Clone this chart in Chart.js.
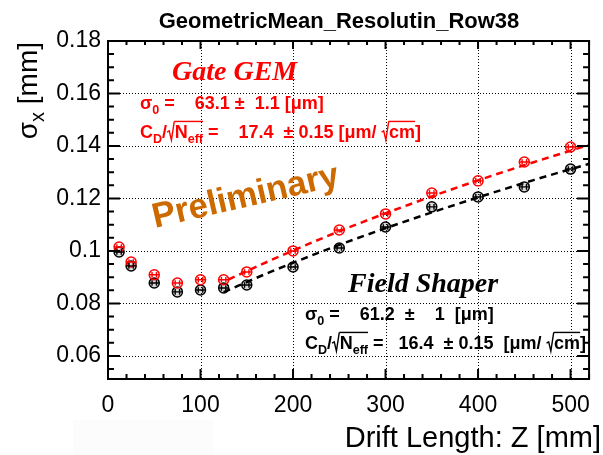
<!DOCTYPE html>
<html>
<head>
<meta charset="utf-8">
<script src="https://cdn.jsdelivr.net/npm/chart.js@4/dist/chart.umd.min.js"></script>
<style>
  body { margin: 0; background: #fff; }
  canvas { display: block; }
</style>
</head>
<body>
<canvas id="chart" width="603" height="455"></canvas>
<script>
// Dados
const zBins = [12, 25, 50, 75, 100, 125, 150, 200, 250, 300, 350, 400, 450, 500];
const gateGEM = [0.1015, 0.0958, 0.0909, 0.0878, 0.0890, 0.0890, 0.0920, 0.1000, 0.1080, 0.1141, 0.1221, 0.1267, 0.1339, 0.1396];
const fieldShaper = [0.0996, 0.0943, 0.0878, 0.0844, 0.0851, 0.0859, 0.0870, 0.0939, 0.1011, 0.1091, 0.1168, 0.1206, 0.1244, 0.1312];

// curvas de ajuste
const fitZGate = [130, 175, 250, 325, 400, 460, 520];
const fitGate = [0.0891, 0.0963, 0.1075, 0.1176, 0.1269, 0.1338, 0.1404];
const fitZField = [125, 175, 250, 325, 400, 460, 520];
const fitField = [0.0843, 0.0919, 0.1023, 0.1117, 0.1204, 0.1270, 0.1332];

const xMajor = [0, 100, 200, 300, 400, 500];
const yMajor = [0.06, 0.08, 0.10, 0.12, 0.14, 0.16, 0.18];

const RED = '#ff0000';
const SANS = '"Liberation Sans", Arial, sans-serif';
const SERIF = '"Liberation Serif", "Times New Roman", serif';

function pts(xs, ys) {
  return xs.map((x, i) => ({ x: x, y: ys[i] }));
}

// texto com subscrito e raiz
function drawParts(ctx, x, y, parts, size) {
  let cx = x;
  for (const p of parts) {
    if (p.sqrt) {
      ctx.save();
      ctx.lineWidth = 1.4;
      ctx.beginPath();
      ctx.moveTo(cx, y - size * 0.33);
      ctx.lineTo(cx + size * 0.12, y - size * 0.40);
      ctx.lineTo(cx + size * 0.24, y + size * 0.12);
      ctx.lineTo(cx + size * 0.40, y - size * 0.92);
      const startTop = cx + size * 0.40;
      ctx.stroke();
      const end = drawParts(ctx, cx + size * 0.42, y, p.sqrt, size);
      ctx.beginPath();
      ctx.moveTo(startTop, y - size * 0.92);
      ctx.lineTo(end, y - size * 0.92);
      ctx.stroke();
      ctx.restore();
      cx = end;
      continue;
    }
    const sub = p[1] === 'sub';
    const fs = sub ? size * 0.7 : size;
    ctx.font = 'bold ' + fs + 'px ' + SANS;
    ctx.fillText(p[0], cx, sub ? y + size * 0.3 : y);
    cx += ctx.measureText(p[0]).width;
  }
  return cx;
}

const rootFrame = {
  id: 'rootFrame',
  beforeDatasetsDraw(chart) {
    const { ctx, chartArea: a, scales: { x, y } } = chart;
    ctx.save();
    ctx.strokeStyle = '#000';
    ctx.lineWidth = 1;
    ctx.setLineDash([1, 2]);
    xMajor.forEach(v => {
      const px = Math.round(x.getPixelForValue(v)) + 0.5;
      ctx.beginPath(); ctx.moveTo(px, a.top); ctx.lineTo(px, a.bottom); ctx.stroke();
    });
    yMajor.forEach(v => {
      const py = Math.round(y.getPixelForValue(v)) + 0.5;
      ctx.beginPath(); ctx.moveTo(a.left, py); ctx.lineTo(a.right, py); ctx.stroke();
    });
    ctx.restore();
  },
  afterDatasetsDraw(chart) {
    const { ctx, chartArea: a, scales: { x, y } } = chart;
    ctx.save();
    // barras de erro dentro dos marcadores
    chart.data.datasets.forEach((ds, i) => {
      if (!ds.markers) return;
      const meta = chart.getDatasetMeta(i);
      ctx.strokeStyle = ds.borderColor;
      ctx.lineWidth = 1.4;
      meta.data.forEach(el => {
        ctx.beginPath();
        ctx.moveTo(el.x - 5, el.y); ctx.lineTo(el.x + 5, el.y);
        ctx.moveTo(el.x - 2.2, el.y - 2.8); ctx.lineTo(el.x - 2.2, el.y + 2.8);
        ctx.moveTo(el.x + 2.2, el.y - 2.8); ctx.lineTo(el.x + 2.2, el.y + 2.8);
        ctx.stroke();
      });
    });
    // moldura e marcas
    ctx.strokeStyle = '#000';
    ctx.lineWidth = 2;
    ctx.strokeRect(a.left, a.top, a.right - a.left, a.bottom - a.top);
    ctx.beginPath();
    for (let v = 0; v <= 520; v += 20) {
      const px = x.getPixelForValue(v);
      const len = v % 100 === 0 ? 10 : 5;
      ctx.moveTo(px, a.bottom); ctx.lineTo(px, a.bottom - len);
      ctx.moveTo(px, a.top); ctx.lineTo(px, a.top + len * 0.8);
    }
    for (let k = 11; k <= 36; k++) {
      const v = k * 0.005;
      const py = y.getPixelForValue(v);
      if (py > a.bottom + 0.5) continue;
      const len = k % 4 === 0 ? 12 : 6;
      ctx.moveTo(a.left, py); ctx.lineTo(a.left + len, py);
      ctx.moveTo(a.right, py); ctx.lineTo(a.right - len, py);
    }
    ctx.stroke();
    ctx.restore();
  },
  afterDraw(chart) {
    const ctx = chart.ctx;
    ctx.save();
    ctx.textBaseline = 'alphabetic';
    ctx.fillStyle = '#fcfcfc';
    ctx.fillRect(73, 420, 141, 35);

    // titulo
    ctx.fillStyle = '#000';
    ctx.textAlign = 'center';
    ctx.font = 'bold 22px ' + SANS;
    ctx.fillText('GeometricMean_Resolutin_Row38', 339, 28);

    // eixo x
    ctx.textAlign = 'right';
    ctx.font = '29px ' + SANS;
    ctx.fillText('Drift Length: Z [mm]', 601, 447);

    // eixo y
    ctx.save();
    ctx.translate(37, 42);
    ctx.rotate(-Math.PI / 2);
    ctx.textAlign = 'left';
    ctx.font = '28px ' + SANS;
    const w1 = ctx.measureText('σ').width;
    ctx.font = '20px ' + SANS;
    const w2 = ctx.measureText('x').width;
    ctx.font = '28px ' + SANS;
    const w3 = ctx.measureText(' [mm]').width;
    const x0 = -(w1 + w2 + w3);
    ctx.fillText('σ', x0, 0);
    ctx.font = '20px ' + SANS;
    ctx.fillText('x', x0 + w1, 7);
    ctx.font = '28px ' + SANS;
    ctx.fillText(' [mm]', x0 + w1 + w2, 0);
    ctx.restore();

    // Gate GEM
    ctx.textAlign = 'left';
    ctx.fillStyle = RED; ctx.strokeStyle = RED;
    ctx.font = 'italic bold 28px ' + SERIF;
    ctx.fillText('Gate GEM', 172, 80);
    drawParts(ctx, 140, 109, [['σ'], ['0', 'sub'], [' =    63.1 ±  1.1 [μm]']], 18);
    drawParts(ctx, 140, 138, [['C'], ['D', 'sub'], ['/'], { sqrt: [['N'], ['eff', 'sub']] },
      [' =    17.4  ± 0.15 [μm/ '], { sqrt: [['cm']] }, [']']], 18);

    // Field Shaper
    ctx.fillStyle = '#000'; ctx.strokeStyle = '#000';
    ctx.font = 'italic bold 28px ' + SERIF;
    ctx.fillText('Field Shaper', 348, 292);
    drawParts(ctx, 305, 320, [['σ'], ['0', 'sub'], [' =    61.2  ±    1  [μm]']], 18);
    drawParts(ctx, 305, 349, [['C'], ['D', 'sub'], ['/'], { sqrt: [['N'], ['eff', 'sub']] },
      [' =   16.4  ± 0.15  [μm/ '], { sqrt: [['cm']] }, [']']], 18);

    // Preliminary
    ctx.save();
    ctx.translate(155, 228);
    ctx.rotate(-13 * Math.PI / 180);
    ctx.fillStyle = '#cc6a00';
    ctx.font = 'bold 35px ' + SANS;
    ctx.fillText('Preliminary', 0, 0);
    ctx.restore();

    ctx.restore();
  }
};

function fixedTicks(values) {
  return s => { s.ticks = values.map(v => ({ value: v })); };
}

const chart = new Chart(document.getElementById('chart'), {
  type: 'scatter',
  data: {
    datasets: [
      {
        type: 'line', label: 'fit gate', data: pts(fitZGate, fitGate),
        borderColor: RED, borderWidth: 2.5, borderDash: [7, 5],
        pointRadius: 0, fill: false, cubicInterpolationMode: 'monotone'
      },
      {
        type: 'line', label: 'fit field', data: pts(fitZField, fitField),
        borderColor: '#000', borderWidth: 2.5, borderDash: [7, 5],
        pointRadius: 0, fill: false, cubicInterpolationMode: 'monotone'
      },
      {
        label: 'Gate GEM', data: pts(zBins, gateGEM), markers: true,
        borderColor: RED, backgroundColor: 'rgba(255,255,255,0)',
        pointRadius: 5, pointBorderWidth: 1.5, showLine: false
      },
      {
        label: 'Field Shaper', data: pts(zBins, fieldShaper), markers: true,
        borderColor: '#000', backgroundColor: 'rgba(0,0,0,0.15)',
        pointRadius: 5, pointBorderWidth: 1.5, showLine: false
      }
    ]
  },
  options: {
    responsive: false,
    animation: false,
    devicePixelRatio: 1,
    layout: { padding: { top: 41, right: 3, left: 0, bottom: 0 } },
    plugins: { legend: { display: false }, tooltip: { enabled: false } },
    scales: {
      x: {
        type: 'linear', min: 0, max: 520,
        afterBuildTicks: fixedTicks(xMajor),
        afterFit: s => { s.height = 76; },
        grid: { display: false, drawTicks: false },
        border: { display: false },
        ticks: {
          autoSkip: false, maxRotation: 0, padding: 13,
          color: '#000', font: { family: SANS, size: 23 },
          callback: v => String(v)
        }
      },
      y: {
        type: 'linear', min: 0.0512, max: 0.18,
        afterBuildTicks: fixedTicks(yMajor),
        afterFit: s => { s.width = 108; },
        grid: { display: false, drawTicks: false },
        border: { display: false },
        ticks: {
          autoSkip: false, padding: 7,
          color: '#000', font: { family: SANS, size: 23 },
          callback: v => String(+v.toFixed(2))
        }
      }
    }
  },
  plugins: [rootFrame]
});
</script>
</body>
</html>
